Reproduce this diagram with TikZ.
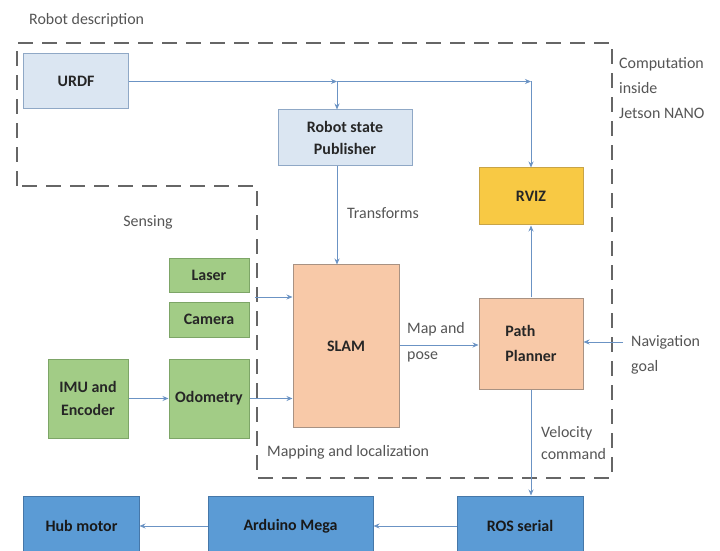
\documentclass[tikz,border=0pt]{standalone}
\usepackage{fontspec}
\setmainfont{Carlito}
\usetikzlibrary{arrows.meta}
\definecolor{lblue}{HTML}{DBE6F2}
\definecolor{lblueb}{HTML}{8FA8C6}
\definecolor{yel}{HTML}{F8C944}
\definecolor{yelb}{HTML}{C8A447}
\definecolor{grn}{HTML}{A2CC86}
\definecolor{grnb}{HTML}{7DA567}
\definecolor{sal}{HTML}{F8C9A8}
\definecolor{salb}{HTML}{A89283}
\definecolor{dblue}{HTML}{5B9BD5}
\definecolor{dblueb}{HTML}{4677A8}
\definecolor{arr}{HTML}{6B93C4}
\definecolor{txt}{HTML}{555555}
\definecolor{dash}{HTML}{666666}
\tikzset{
  boxbase/.style={draw, line width=1bp, inner sep=0pt, align=center, text=black!85,
    font=\fontsize{16}{24}\selectfont\bfseries},
  bluebox/.style={boxbase, fill=lblue, draw=lblueb},
  yelbox/.style={boxbase, fill=yel, draw=yelb},
  grnbox/.style={boxbase, fill=grn, draw=grnb},
  salbox/.style={boxbase, fill=sal, draw=salb},
  dbox/.style={boxbase, fill=dblue, draw=dblueb, text=black!90},
  conn/.style={draw=arr, line width=0.9bp, -{Stealth[length=6bp,width=5bp]}},
  lbl/.style={text=txt, font=\fontsize{16}{25}\selectfont, inner sep=0pt, align=left},
  region/.style={draw=dash, line width=1.3bp, dash pattern=on 15bp off 9bp}
}
\begin{document}
\begin{tikzpicture}[x=1bp, y=-1bp]
\useasboundingbox (0,0) rectangle (720,551);
\fill[white] (0,0) rectangle (720,551);
% dashed region
\draw[region] (17,186) -- (17,43) -- (612,43) -- (612,478) -- (257,478) -- (257,186) -- cycle;
% nodes
\node[bluebox, minimum width=104bp, minimum height=55bp] (urdf) at (76,81.5) {URDF};
\node[bluebox, minimum width=134bp, minimum height=56bp, font=\fontsize{16}{23}\selectfont\bfseries] (rsp) at (345,138) {Robot state\\Publisher};
\node[yelbox, minimum width=104bp, minimum height=57bp] (rviz) at (531,196.5) {RVIZ};
\node[grnbox, minimum width=80bp, minimum height=33bp] (laser) at (209,275.5) {Laser};
\node[grnbox, minimum width=80bp, minimum height=35bp] (camera) at (209,319.5) {Camera};
\node[salbox, minimum width=106bp, minimum height=162bp] (slam) at (346,346) {SLAM};
\node[salbox, minimum width=104bp, minimum height=91bp, align=left, font=\fontsize{16}{25}\selectfont\bfseries] (pp) at (531,343.5) {Path\\Planner};
\node[grnbox, minimum width=80bp, minimum height=79bp, font=\fontsize{16}{23}\selectfont\bfseries] (imu) at (88,398.5) {IMU and\\Encoder};
\node[grnbox, minimum width=80bp, minimum height=79bp] (odo) at (209,398.5) {Odometry};
\node[dbox, minimum width=115bp, minimum height=60bp] (hub) at (81.5,526) {Hub motor};
\node[dbox, minimum width=165bp, minimum height=60bp] (ard) at (290.5,526) {Arduino Mega};
\node[dbox, minimum width=126bp, minimum height=60bp] (ros) at (520,526) {ROS serial};
% labels
\node[lbl, anchor=west] (l1) at (29,20) {Robot description};
\node[lbl, anchor=west] (l2) at (619,88) {Computation\\inside\\Jetson NANO};
\node[lbl, anchor=center] (l3) at (148,222) {Sensing};
\node[lbl, anchor=west] (l4) at (347,213) {Transforms};
\node[lbl, anchor=west, font=\fontsize{16}{26}\selectfont] (l5) at (407,342) {Map and\\pose};
\node[lbl, anchor=west] (l6) at (631,354.5) {Navigation\\goal};
\node[lbl, anchor=west] (l7) at (267,452) {Mapping and localization};
\node[lbl, anchor=west, font=\fontsize{16}{23}\selectfont] (l8) at (541,443) {Velocity\\command};
% connectors
\coordinate (j1) at (337,81.5);
\coordinate (j2) at (531,81.5);
\coordinate (ls) at (255,297);
\coordinate (ng) at (623,342);
\draw[conn] (urdf.east) -- (j1);
\draw[conn] (j1) -- (j1 |- rsp.north);
\draw[conn] (j1) -- (j2);
\draw[conn] (j2) -- (rviz.north);
\draw[conn] (rsp.south -| j1) -- (j1 |- slam.north);
\draw[conn] (ls) -- (ls -| slam.west);
\draw[conn] (imu.east) -- (odo.west);
\draw[conn] (odo.east) -- (odo.east -| slam.west);
\draw[conn] (slam.east |- 0,345) -- (pp.west |- 0,345);
\draw[conn] (pp.north) -- (rviz.south);
\draw[conn] (ng) -- (ng -| pp.east);
\draw[conn] (pp.south) -- (pp.south |- ros.north);
\draw[conn] (ros.west) -- (ard.east);
\draw[conn] (ard.west) -- (hub.east);
\end{tikzpicture}
\end{document}
